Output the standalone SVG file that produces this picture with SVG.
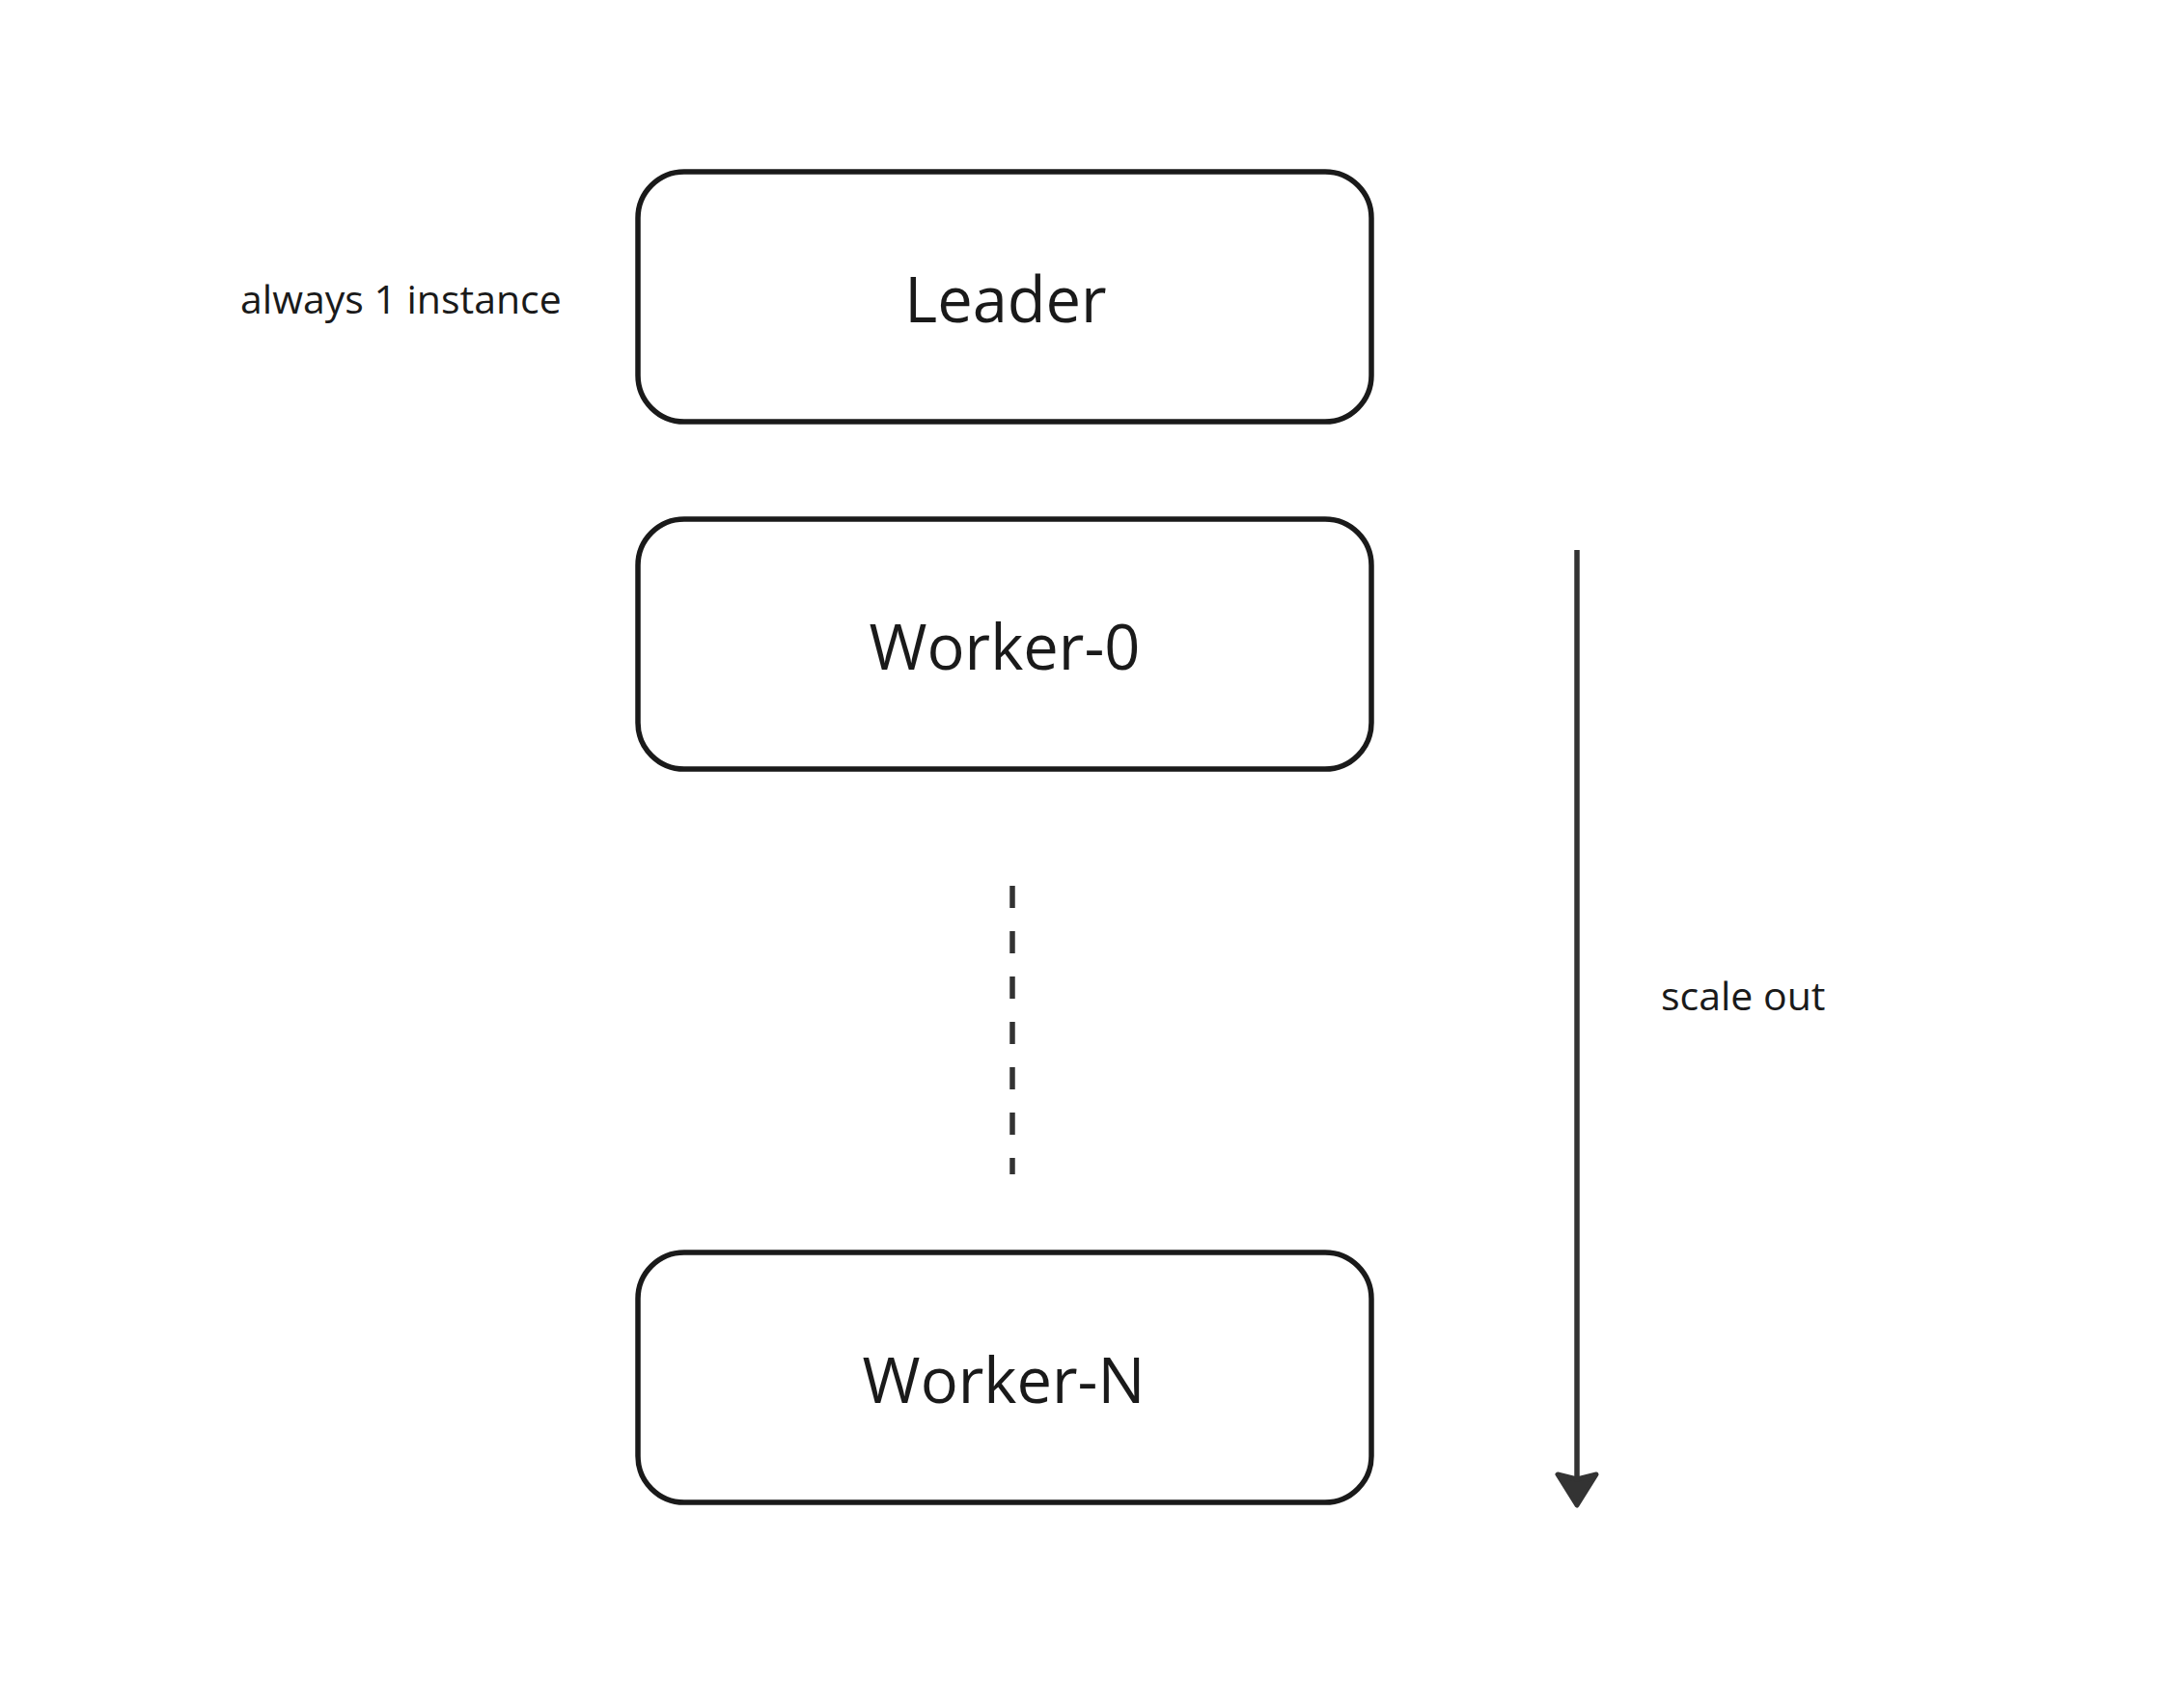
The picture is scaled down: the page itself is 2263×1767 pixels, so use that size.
<svg xmlns="http://www.w3.org/2000/svg" width="2263" height="1767" viewBox="0 0 2263 1767">
  <style>
    .box { fill: #ffffff; stroke: #1a1a1a; stroke-width: 5.5; }
    .title { font-family: "Open Sans", "Noto Sans", "DejaVu Sans", sans-serif; font-size: 65px; fill: #1a1a1a; text-anchor: middle; }
    .label { font-family: "Open Sans", "Noto Sans", "DejaVu Sans", sans-serif; font-size: 41px; fill: #1a1a1a; }
    .conn { stroke: #333333; stroke-width: 5.5; fill: none; }
  </style>
  <rect x="0" y="0" width="2263" height="1767" fill="#ffffff"/>
  <g id="leader">
    <rect class="box" x="661" y="178" width="760" height="259" rx="48" ry="48"/>
    <text class="title" x="1042" y="334">Leader</text>
  </g>
  <g id="worker-0">
    <rect class="box" x="661" y="538" width="760" height="259" rx="48" ry="48"/>
    <text class="title" x="1041" y="694">Worker-0</text>
  </g>
  <g id="worker-n">
    <rect class="box" x="661" y="1298" width="760" height="259" rx="48" ry="48"/>
    <text class="title" x="1040" y="1454">Worker-N</text>
  </g>
  <g id="label-always">
    <text class="label" x="249" y="325">always 1 instance</text>
  </g>
  <g id="label-scale">
    <text class="label" x="1721" y="1047">scale out</text>
  </g>
  <g id="connectors">
    <line class="conn" x1="1049" y1="918" x2="1049" y2="1217" stroke-dasharray="23 24"/>
    <line class="conn" x1="1634" y1="570" x2="1634" y2="1536"/>
    <path d="M1614,1528 L1634,1533 L1654,1528 L1634,1560 Z" fill="#333333" stroke="#333333" stroke-width="5" stroke-linejoin="round"/>
  </g>
</svg>
